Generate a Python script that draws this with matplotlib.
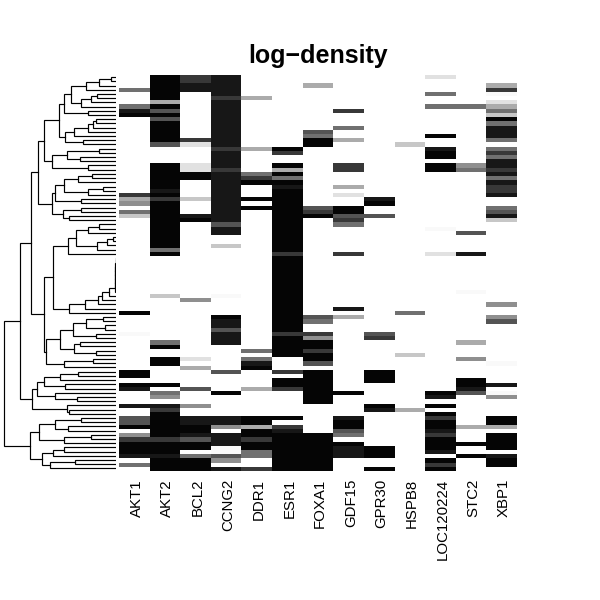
import matplotlib
matplotlib.use("Agg")
import matplotlib.pyplot as plt
from matplotlib.transforms import ScaledTranslation
import numpy as np

plt.rcParams['font.family'] = ['Liberation Sans', 'DejaVu Sans']

genes = ['AKT1', 'AKT2', 'BCL2', 'CCNG2', 'DDR1', 'ESR1', 'FOXA1', 'GDF15',
         'GPR30', 'HSPB8', 'LOC120224', 'STC2', 'XBP1']

# darkness per row, top to bottom, 10 rows per chunk: . white, a faint, 1-9 grey to black
E = '..........'
AKT1 = ['...5...589', E, '........73', '4.52......', E, '......9...', '.a........', '99.98...8.', '.669.47999', '8.5.']
AKT2 = ['9999993969', '6999996...', '.999999897', '9999999999', '959.......', '..2.......', '...59..99.', '...9.54.87', '9999997999', '8999']
BCL2 = ['7788......', '.....71...', '.1199....2', '...89.....', E, '...4......', '.......1.3', '....6...4.', '.88998699.', '5999']
CCNG2 = ['8888878888', '8888888788', '8878888888', '88888688..', '2.........', '..a....988', '6888......', '6....9....', '.884.888aa', '64.8']
DDR1 = ['.....3....', '.......3..', '...579...9', '.9........', E, E, '.....5.589', '....3.....', '.993997995', '5..7']
ESR1 = [E, '.......97.', '.939598999', '9999999999', '9979999999', '9999999999', '9799999...', '7.997.....', '.9.7899999', '9999']
FOXA1 = ['..3.......', '...6599...', E, '.679......', E, '.......65.', '.74997996.', '99999999..', '.....99999', '9999']
GDF15 = ['........7.', '..5..3....', '.77...3.1.', '.99675....', '..7.......', '.....8.3..', E, '.....9....', '.89965.988', '8...']
GPR30 = [E, E, '.........8', '9..6......', E, E, '.67.......', '999.....98', '........99', '9..9']
HSPB8 = [E, '......2...', E, E, E, '......5...', '......2...', '.........3', E, '....']
LOC120224 = ['1...5..5..', '....9..899', '.99.......', '......a...', '..1.......', E, E, '.....98.9.', '9799879998', '.979']
STC2 = ['.......5..', E, '.45.......', '.......6..', '..8.......', '.a........', '...3...4..', '..9986....', '...3...9..', '9...']
XBP1 = ['..37a.1352', '958885.575', '887858778.', '.5682.....', E, '....4..46.', '........a.', '...8.a4...', '.993.9999.', '899.']

columns = [AKT1, AKT2, BCL2, CCNG2, DDR1, ESR1, FOXA1, GDF15, GPR30, HSPB8, LOC120224, STC2, XBP1]
levels = {'.': 0, 'a': 0.025, '1': 0.12, '2': 0.22, '3': 0.33, '4': 0.44, '5': 0.56,
          '6': 0.67, '7': 0.78, '8': 0.91, '9': 0.98}
density = np.array([[levels[c] for c in ''.join(col)] for col in columns], dtype=float).T

# row dendrogram, nested as (merge height, upper child, lower child), o is a row
o = None
chain = (1.2, (1.1, (1, (0.9, (0.8, (0.7, (0.5, (0.4, o, o), o), o), o), o), o), o), o)
top_a = (52, (45, (30, (17, (5, o, o), o), o), (35, (25, (19, o, o), o), o)), (28, o, o))
top_b = (51, (42, (28, (23, (20, o, o), o), o), o), (33, o, o))
top_c = (64, (49, (17, o, o), (36, o, o)), (28, o, o))
top_d = (61, (52, (38, (24, o, o), o), (28, (13, o, o), o)), (35, o, o))
top_e = (53, (35, o, o), (47, o, o))
upper = (78, (72, (57, top_a, top_b), top_c), (64, top_d, top_e))
mid_a = (48, (40, (28, (17, o, o), o), (19, (9, (3, o, o), o), o)), o)
mid_b = (47, (31, (18, (14, (7, chain, o), o), o), o), o)
mid_c = (56, (43, (30, (13, o, o), (11, o, o)), (20, o, o)), (42, (36, o, o), (20, o, o)))
mid_d = (52, (23, o, o), o)
middle = (72, (63, mid_a, mid_b), (70, mid_c, mid_d))
low_a = (79, (72, (56, (38, o, o), o), (51, o, o)), (61, o, (39, o, o)))
low_b = (49, o, (47, o, o))
bottom_a = (77, (61, (35, o, o), (48, o, o)), (52, (25, o, o), o))
bottom_b = (74, (63, (52, o, o), o), (66, (41, o, o), o))
tree = (112, (96, (85, upper, middle), (84, low_a, low_b)), (86, bottom_a, bottom_b))

fig = plt.figure(figsize=(6, 6), dpi=100)

ax = fig.add_axes([119 / 600, 1 - 470.6 / 600, 398 / 600, 395.6 / 600])
ax.imshow(density, cmap='gray_r', vmin=0, vmax=1, aspect='auto', interpolation='nearest')
ax.set_xticks(range(len(genes)))
ax.set_xticklabels(genes, rotation=90, fontsize=10.8)
ax.set_yticks([])
ax.tick_params(axis='x', length=0, pad=6)
# nudge the rotated labels onto the column centres
shift = ScaledTranslation(2.2 / 100, 0, fig.dpi_scale_trans)
for label in ax.get_xticklabels():
    label.set_transform(label.get_transform() + shift)
for s in ax.spines.values():
    s.set_visible(False)

ax_tree = fig.add_axes([0, 1 - 470.6 / 600, 116 / 600, 395.6 / 600])
ax_tree.set_xlim(116, 0)
ax_tree.set_ylim(density.shape[0] - 0.5, -0.5)
ax_tree.axis('off')

next_row = [0]


def draw(node):
    # returns row position and height of the node
    if node is None:
        next_row[0] += 1
        return next_row[0] - 1, 0
    h, a, b = node
    ya, ha = draw(a)
    yb, hb = draw(b)
    ax_tree.plot([ha, h, h, hb], [ya, ya, yb, yb], color='black', lw=0.85, solid_joinstyle='miter')
    return (ya + yb) / 2, h


draw(tree)

fig.text(318 / 600, 1 - 55.5 / 600, 'log\u2212density', ha='center', va='center', fontsize=18, fontweight='bold')

fig.savefig('out.png', dpi=100)
